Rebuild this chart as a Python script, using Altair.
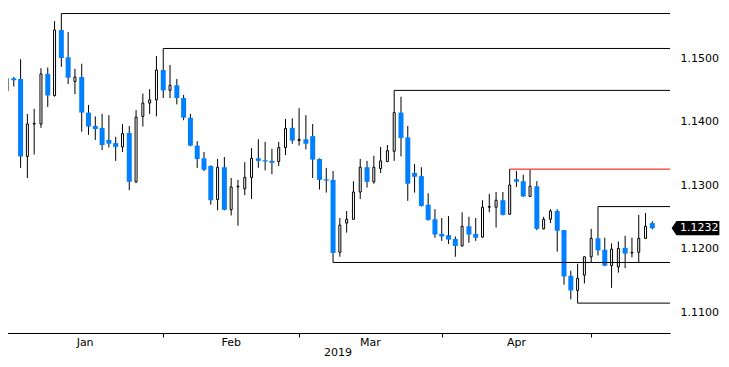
import altair as alt
import pandas as pd

# ---- data (daily EUR/USD candles, Dec 31 2018 .. May 13 2019) ----
opens = [1.1448, 1.1468, 1.1467, 1.1345, 1.1396, 1.1396, 1.1475, 1.1441, 1.1544, 1.1501,
         1.1463, 1.1470, 1.1414, 1.1393, 1.1390, 1.1371, 1.1366, 1.1360, 1.1382, 1.1305,
         1.1408, 1.1429, 1.1434, 1.1481, 1.1449, 1.1457, 1.1437, 1.1406, 1.1362, 1.1342,
         1.1330, 1.1277, 1.1328, 1.1261, 1.1297, 1.1294, 1.1312, 1.1342, 1.1339, 1.1338,
         1.1337, 1.1359, 1.1390, 1.1370, 1.1372, 1.1377, 1.1341, 1.1309, 1.1308, 1.1194,
         1.1240, 1.1246, 1.1289, 1.1328, 1.1305, 1.1326, 1.1337, 1.1353, 1.1414, 1.1375,
         1.1319, 1.1314, 1.1269, 1.1246, 1.1223, 1.1221, 1.1215, 1.1204, 1.1235, 1.1223,
         1.1218, 1.1265, 1.1265, 1.1276, 1.1254, 1.1309, 1.1306, 1.1282, 1.1298, 1.1231,
         1.1246, 1.1259, 1.1229, 1.1157, 1.1134, 1.1158, 1.1187, 1.1216, 1.1198, 1.1173,
         1.1171, 1.1201, 1.1193, 1.1194, 1.1216, 1.1240]
highs = [1.1468, 1.1470, 1.1498, 1.1412, 1.1420, 1.1484, 1.1485, 1.1558, 1.1570, 1.1541,
         1.1483, 1.1491, 1.1426, 1.1408, 1.1412, 1.1410, 1.1376, 1.1396, 1.1393, 1.1418,
         1.1444, 1.1451, 1.1503, 1.1515, 1.1489, 1.1467, 1.1442, 1.1412, 1.1369, 1.1352,
         1.1331, 1.1341, 1.1344, 1.1311, 1.1308, 1.1336, 1.1358, 1.1372, 1.1368, 1.1357,
         1.1368, 1.1404, 1.1405, 1.1421, 1.1410, 1.1396, 1.1342, 1.1327, 1.1322, 1.1248,
         1.1259, 1.1306, 1.1341, 1.1338, 1.1346, 1.1360, 1.1363, 1.1449, 1.1439, 1.1393,
         1.1333, 1.1328, 1.1287, 1.1262, 1.1248, 1.1251, 1.1219, 1.1257, 1.1250, 1.1248,
         1.1276, 1.1286, 1.1289, 1.1289, 1.1325, 1.1322, 1.1316, 1.1324, 1.1306, 1.1250,
         1.1262, 1.1262, 1.1229, 1.1165, 1.1176, 1.1187, 1.1231, 1.1266, 1.1217, 1.1208,
         1.1211, 1.1220, 1.1217, 1.1253, 1.1256, 1.1243]
lows = [1.1423, 1.1455, 1.1327, 1.1311, 1.1348, 1.1390, 1.1423, 1.1439, 1.1486, 1.1459,
        1.1443, 1.1384, 1.1379, 1.1371, 1.1355, 1.1359, 1.1338, 1.1352, 1.1292, 1.1303,
        1.1392, 1.1412, 1.1408, 1.1437, 1.1437, 1.1427, 1.1402, 1.1361, 1.1327, 1.1322,
        1.1269, 1.1260, 1.1260, 1.1252, 1.1236, 1.1284, 1.1278, 1.1327, 1.1323, 1.1317,
        1.1330, 1.1347, 1.1365, 1.1362, 1.1356, 1.1311, 1.1293, 1.1288, 1.1178, 1.1187,
        1.1225, 1.1245, 1.1278, 1.1296, 1.1302, 1.1319, 1.1336, 1.1338, 1.1345, 1.1275,
        1.1288, 1.1266, 1.1244, 1.1217, 1.1212, 1.1207, 1.1187, 1.1203, 1.1209, 1.1212,
        1.1217, 1.1257, 1.1233, 1.1252, 1.1253, 1.1297, 1.1281, 1.1281, 1.1229, 1.1230,
        1.1240, 1.1195, 1.1143, 1.1120, 1.1114, 1.1145, 1.1178, 1.1189, 1.1172, 1.1138,
        1.1162, 1.1169, 1.1186, 1.1177, 1.1215, 1.1230]
closes = [1.1468, 1.1465, 1.1345, 1.1396, 1.1397, 1.1475, 1.1441, 1.1544, 1.1500, 1.1469,
          1.1470, 1.1414, 1.1392, 1.1388, 1.1363, 1.1365, 1.1360, 1.1381, 1.1305, 1.1407,
          1.1429, 1.1434, 1.1481, 1.1449, 1.1457, 1.1437, 1.1406, 1.1362, 1.1341, 1.1324,
          1.1276, 1.1328, 1.1261, 1.1297, 1.1298, 1.1312, 1.1342, 1.1338, 1.1337, 1.1335,
          1.1359, 1.1389, 1.1370, 1.1372, 1.1365, 1.1340, 1.1308, 1.1307, 1.1193, 1.1237,
          1.1246, 1.1289, 1.1328, 1.1305, 1.1328, 1.1338, 1.1354, 1.1414, 1.1374, 1.1302,
          1.1313, 1.1267, 1.1245, 1.1222, 1.1219, 1.1214, 1.1204, 1.1235, 1.1222, 1.1217,
          1.1265, 1.1266, 1.1276, 1.1253, 1.1300, 1.1305, 1.1282, 1.1298, 1.1231, 1.1246,
          1.1259, 1.1228, 1.1156, 1.1134, 1.1153, 1.1187, 1.1216, 1.1197, 1.1173, 1.1199,
          1.1200, 1.1192, 1.1194, 1.1216, 1.1235, 1.1232]

# support / resistance levels: candle number where each starts, price, colour
level_start = [9, 24, 58, 75, 88, 49, 85]
level_price = [1.1570, 1.1515, 1.1449, 1.1325, 1.1266, 1.1178, 1.1114]
level_color = ["black", "black", "black", "red", "black", "black", "black"]

month_names = ["Jan", "Feb", "Mar", "Apr"]
month_mid = [12.5, 34, 54.5, 76]
month_bounds = [1, 24, 44, 65, 87]
year_label = "2019"
price_ticks = [1.11, 1.12, 1.13, 1.14, 1.15]

# ---- layout ----
W, H = 664, 333
X_DOMAIN = [0.8528, 98.602]
Y_DOMAIN = [1.106693, 1.159134]
BLUE = "#0080ff"
FONT = "DejaVu Sans"
FS = 11

n = len(opens)
df = pd.DataFrame({"i": list(range(1, n + 1)), "open": opens, "high": highs,
                   "low": lows, "close": closes})
df["dir"] = ["down" if c < o else "up" for o, c in zip(opens, closes)]

levels = pd.DataFrame({"start": level_start, "end": [X_DOMAIN[1]] * len(level_start),
                       "price": level_price, "color": level_color})
months = pd.DataFrame({"m": month_names, "mid": month_mid})
year = pd.DataFrame({"t": [year_label], "mid": [(X_DOMAIN[0] + X_DOMAIN[1]) / 2]})
last = pd.DataFrame({"price": [closes[-1]], "label": [f"{closes[-1]:.4f}"]})

xs = alt.Scale(domain=X_DOMAIN, nice=False, zero=False, padding=0)
ys = alt.Scale(domain=Y_DOMAIN, nice=False, zero=False, padding=0)
x_axis = alt.Axis(values=month_bounds, labels=False, title=None, grid=False,
                  tickSize=4, tickColor="black", domainColor="black",
                  domainWidth=1, tickWidth=1)
y_axis = alt.Axis(orient="right", values=price_ticks, format=".4f", title=None,
                  grid=False, ticks=False, domain=False, labelPadding=10,
                  labelFont=FONT, labelFontSize=FS, labelColor="black")


def X(field):
    return alt.X(field, type="quantitative", scale=xs, axis=x_axis)


def Y(field):
    return alt.Y(field, type="quantitative", scale=ys, axis=y_axis)


base = alt.Chart(df)

wicks = base.mark_rule(color="black", strokeWidth=1, clip=True).encode(
    x=X("i"), y=Y("low"), y2="high:Q")

down = base.transform_filter(alt.datum.dir == "down").mark_bar(
    size=5, color=BLUE, clip=True).encode(x=X("i"), y=Y("open"), y2="close:Q")

up = base.transform_filter(alt.datum.dir == "up").mark_bar(
    size=2, fill="white", stroke="black", strokeWidth=1, clip=True).encode(
    x=X("i"), y=Y("open"), y2="close:Q")

lvl = alt.Chart(levels).mark_rule(strokeWidth=1).encode(
    x=X("start"), x2="end:Q", y=Y("price"),
    color=alt.Color("color:N", scale=None))

mtext = alt.Chart(months).mark_text(font=FONT, fontSize=FS, color="black",
                                    baseline="middle", align="center").encode(
    x=X("mid"), y=alt.value(342.7), text="m:N")

ytext = alt.Chart(year).mark_text(font=FONT, fontSize=FS, color="black",
                                  baseline="middle", align="center").encode(
    x=X("mid"), y=alt.value(352.5), text="t:N")

# price tag: arrow-shaped black box, path spans exactly [-1, 1] horizontally
tag_shape = "M -1 0 L -0.798 -0.3 L 1 -0.3 L 1 0.3 L -0.798 0.3 Z"
tag = alt.Chart(last).mark_point(shape=tag_shape, filled=True, size=2285,
                                 color="black", opacity=1, strokeWidth=0).encode(
    x=alt.value(689.5), y=Y("price"))
tagtext = alt.Chart(last).mark_text(font=FONT, fontSize=FS, color="white",
                                    baseline="middle", align="center").encode(
    x=alt.value(693.3), y=Y("price"), text="label:N")

chart = alt.layer(wicks, down, up, lvl, mtext, ytext, tag, tagtext).properties(
    width=W, height=H, background="white",
    padding={"left": -2, "top": -8, "right": 0, "bottom": 0},
).configure_view(stroke=None)

chart.save("out.html", embed_options={"renderer": "svg", "actions": False})
